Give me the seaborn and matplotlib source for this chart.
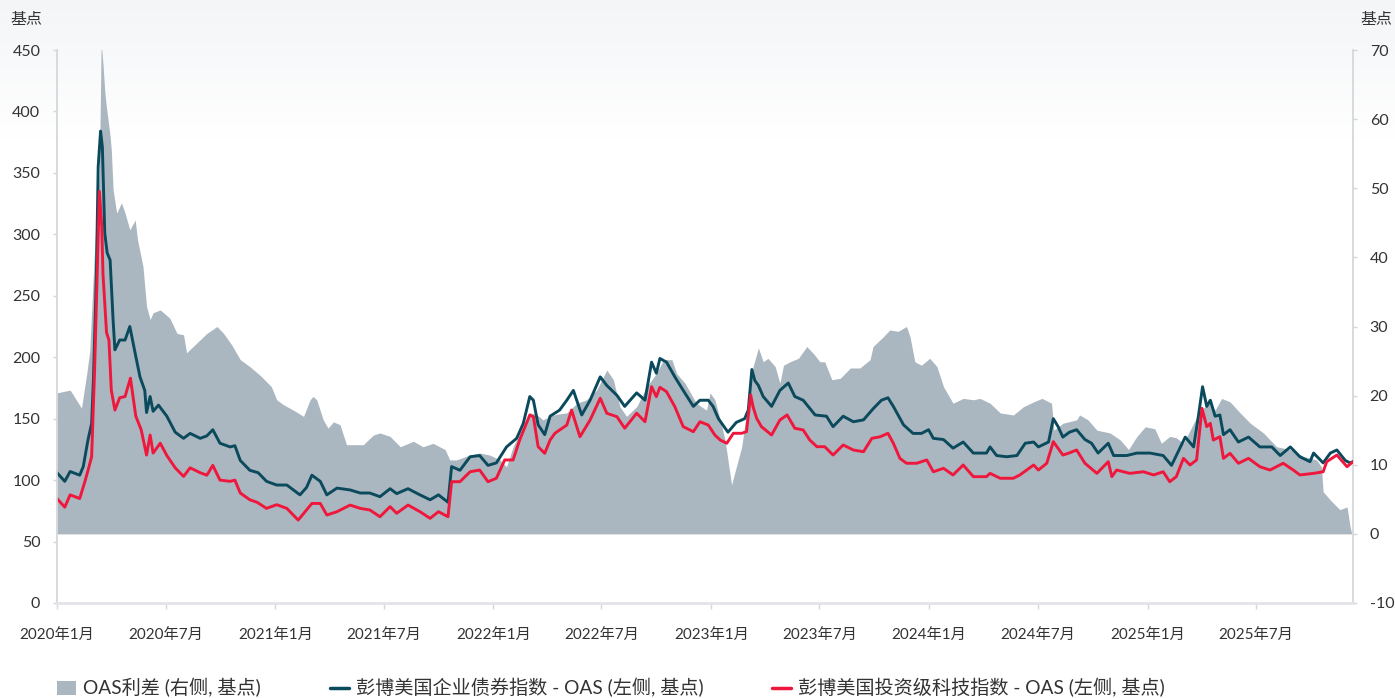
import matplotlib
matplotlib.use("Agg")
import matplotlib.pyplot as plt
from matplotlib.patches import Patch
from matplotlib.lines import Line2D
import numpy as np
import pandas as pd
import seaborn as sns

# ---------------- data ----------------
corp_dates = [
    "2020-01-01", "2020-01-14", "2020-01-23", "2020-02-08", "2020-02-14", "2020-02-22", "2020-02-28",
    "2020-03-02", "2020-03-07", "2020-03-10", "2020-03-14", "2020-03-17", "2020-03-21", "2020-03-25",
    "2020-03-30", "2020-04-04", "2020-04-07", "2020-04-15", "2020-04-24", "2020-05-02", "2020-05-11",
    "2020-05-19", "2020-05-27", "2020-05-30", "2020-06-05", "2020-06-10", "2020-06-19", "2020-07-03",
    "2020-07-17", "2020-07-31", "2020-08-11", "2020-08-28", "2020-09-08", "2020-09-18", "2020-09-30",
    "2020-10-17", "2020-10-25", "2020-11-03", "2020-11-19", "2020-12-03", "2020-12-17", "2021-01-03",
    "2021-01-20", "2021-02-11", "2021-02-22", "2021-03-03", "2021-03-17", "2021-03-28", "2021-04-14",
    "2021-05-06", "2021-05-23", "2021-06-08", "2021-06-25", "2021-07-12", "2021-07-23", "2021-08-11",
    "2021-08-31", "2021-09-17", "2021-10-01", "2021-10-17", "2021-10-23", "2021-11-06", "2021-11-23",
    "2021-12-09", "2021-12-23", "2022-01-06", "2022-01-23", "2022-02-09", "2022-02-20", "2022-03-03",
    "2022-03-09", "2022-03-17", "2022-03-28", "2022-04-06", "2022-04-22", "2022-05-04", "2022-05-15",
    "2022-05-29", "2022-06-12", "2022-06-29", "2022-07-10", "2022-07-27", "2022-08-09", "2022-08-29",
    "2022-09-12", "2022-09-23", "2022-10-01", "2022-10-07", "2022-10-18", "2022-11-01", "2022-11-15",
    "2022-12-02", "2022-12-13", "2022-12-27", "2023-01-04", "2023-01-13", "2023-01-29", "2023-02-12",
    "2023-02-26", "2023-03-04", "2023-03-10", "2023-03-15", "2023-03-21", "2023-03-29", "2023-04-12",
    "2023-04-26", "2023-05-10", "2023-05-21", "2023-06-04", "2023-06-24", "2023-07-13", "2023-07-24",
    "2023-08-10", "2023-08-27", "2023-09-13", "2023-09-29", "2023-10-13", "2023-10-24", "2023-11-02",
    "2023-11-19", "2023-12-05", "2023-12-19", "2023-12-31", "2024-01-08", "2024-01-25", "2024-02-10",
    "2024-02-27", "2024-03-15", "2024-04-06", "2024-04-12", "2024-04-23", "2024-05-10", "2024-05-27",
    "2024-06-10", "2024-06-24", "2024-07-02", "2024-07-19", "2024-07-27", "2024-08-04", "2024-08-12",
    "2024-08-23", "2024-09-04", "2024-09-18", "2024-09-29", "2024-10-10", "2024-10-27", "2024-11-05",
    "2024-11-27", "2024-12-14", "2025-01-05", "2025-01-27", "2025-02-10", "2025-02-21", "2025-03-05",
    "2025-03-19", "2025-03-27", "2025-04-03", "2025-04-10", "2025-04-16", "2025-04-24", "2025-05-02",
    "2025-05-08", "2025-05-19", "2025-06-02", "2025-06-19", "2025-07-08", "2025-07-28", "2025-08-11",
    "2025-08-28", "2025-09-13", "2025-09-30", "2025-10-06", "2025-10-22", "2025-11-03", "2025-11-14",
    "2025-11-28", "2025-12-06", "2025-12-11",
]
corp_oas = [
    106, 99, 107, 104, 111, 133, 146,
    181, 268, 355, 384, 371, 301, 285,
    279, 230, 206, 214, 214, 225, 203,
    184, 173, 155, 168, 156, 161, 152,
    139, 134, 138, 134, 136, 141, 130,
    127, 128, 116, 108, 106, 99, 96,
    96, 88, 94, 104, 99, 88, 93.5,
    92, 89.5, 89.5, 86.5, 93, 89, 93,
    88, 84, 88, 82, 111, 108, 119,
    120, 112, 114, 127, 134, 146, 168,
    165, 145, 137, 152, 157, 165, 173,
    153, 165, 184, 177, 169, 160, 171,
    165, 196, 187, 199, 196, 184, 173,
    160, 165, 165, 160, 150, 139, 147,
    150, 157, 190, 181, 177, 168, 160,
    173, 179, 168, 165, 153, 152, 143.5,
    152, 147.5, 149, 158, 165, 167, 160,
    145, 138, 138, 141, 134, 133, 126,
    131, 122, 122, 127, 120, 119, 120,
    130, 131, 127, 131, 150, 143.5, 135,
    139, 141, 133, 130, 122, 130, 120,
    120, 122, 122, 120, 112, 123, 135,
    127, 152, 176, 160, 165, 152, 153,
    137, 141, 131, 135, 127, 127, 120,
    127, 119, 115, 122, 114, 122, 124.5,
    116, 114, 115,
]

tech_dates = [
    "2020-01-01", "2020-01-14", "2020-01-23", "2020-02-08", "2020-02-16", "2020-02-22", "2020-02-28",
    "2020-03-04", "2020-03-12", "2020-03-16", "2020-03-18", "2020-03-24", "2020-03-28", "2020-04-01",
    "2020-04-07", "2020-04-15", "2020-04-24", "2020-05-03", "2020-05-12", "2020-05-21", "2020-05-30",
    "2020-06-05", "2020-06-10", "2020-06-22", "2020-07-03", "2020-07-17", "2020-07-31", "2020-08-11",
    "2020-08-28", "2020-09-08", "2020-09-18", "2020-09-30", "2020-10-17", "2020-10-25", "2020-11-03",
    "2020-11-19", "2020-12-01", "2020-12-17", "2021-01-03", "2021-01-20", "2021-02-08", "2021-02-22",
    "2021-03-03", "2021-03-17", "2021-03-28", "2021-04-14", "2021-05-06", "2021-05-23", "2021-06-08",
    "2021-06-25", "2021-07-12", "2021-07-23", "2021-08-11", "2021-08-31", "2021-09-17", "2021-10-01",
    "2021-10-17", "2021-10-23", "2021-11-06", "2021-11-23", "2021-12-09", "2021-12-23", "2022-01-06",
    "2022-01-20", "2022-02-03", "2022-02-14", "2022-03-03", "2022-03-09", "2022-03-17", "2022-03-28",
    "2022-04-06", "2022-04-14", "2022-05-04", "2022-05-12", "2022-05-26", "2022-06-12", "2022-06-29",
    "2022-07-10", "2022-07-27", "2022-08-09", "2022-08-29", "2022-09-12", "2022-09-23", "2022-10-01",
    "2022-10-07", "2022-10-18", "2022-11-01", "2022-11-15", "2022-12-02", "2022-12-13", "2022-12-27",
    "2023-01-07", "2023-01-16", "2023-01-27", "2023-02-07", "2023-02-21", "2023-03-01", "2023-03-08",
    "2023-03-12", "2023-03-18", "2023-03-26", "2023-04-12", "2023-04-26", "2023-05-08", "2023-05-21",
    "2023-06-04", "2023-06-15", "2023-06-27", "2023-07-10", "2023-07-24", "2023-08-10", "2023-08-27",
    "2023-09-13", "2023-09-27", "2023-10-11", "2023-10-24", "2023-11-02", "2023-11-13", "2023-11-24",
    "2023-12-11", "2023-12-28", "2024-01-08", "2024-01-25", "2024-02-10", "2024-02-27", "2024-03-15",
    "2024-04-06", "2024-04-12", "2024-04-29", "2024-05-21", "2024-06-01", "2024-06-24", "2024-07-02",
    "2024-07-16", "2024-07-27", "2024-08-04", "2024-08-12", "2024-08-21", "2024-09-04", "2024-09-18",
    "2024-10-08", "2024-10-27", "2024-11-02", "2024-11-10", "2024-12-02", "2024-12-25", "2025-01-11",
    "2025-01-27", "2025-02-07", "2025-02-18", "2025-03-02", "2025-03-13", "2025-03-24", "2025-04-02",
    "2025-04-10", "2025-04-16", "2025-04-21", "2025-05-02", "2025-05-08", "2025-05-19", "2025-06-02",
    "2025-06-19", "2025-07-08", "2025-07-25", "2025-08-16", "2025-09-02", "2025-09-13", "2025-10-06",
    "2025-10-22", "2025-10-28", "2025-11-14", "2025-12-01", "2025-12-11",
]
tech_oas = [
    85, 78, 88, 85, 97.6, 108, 119,
    190, 335, 306, 268, 220, 214, 173,
    157, 167, 168, 183, 152, 141, 120.4,
    136.7, 122, 130, 120, 110, 103, 110,
    106, 104, 112, 100, 99, 100, 89.5,
    84, 82, 77, 80, 77, 67.5, 75.7,
    81, 81, 71.6, 74.3, 79.7, 77, 75.7,
    70.2, 78.4, 73, 79.7, 74.3, 68.9, 74.3,
    70.2, 98.7, 98.7, 106.8, 108.2, 98.7, 101.5,
    116.4, 116.4, 132.6, 153, 151.6, 127.2, 121.8,
    132.6, 138.1, 144.8, 157, 135.3, 148.9, 166.6,
    154.4, 151.6, 142.2, 154.4, 147.5, 176, 167.9,
    175.5, 172, 159.7, 143.5, 139.4, 147.5, 144.8,
    136.7, 132.6, 130, 138.1, 138.1, 139.4, 169.3,
    159.7, 150.3, 143.5, 136.7, 148.9, 153, 142.2,
    140.8, 132.6, 127.2, 127.2, 120.4, 128.6, 124.5,
    123.1, 134, 135.3, 138.1, 130, 117.7, 113.7,
    113.7, 116.4, 106.8, 109.6, 104.2, 112.3, 102.8,
    102.8, 105.5, 101.5, 101.5, 104.2, 112.3, 108.2,
    113.7, 131.3, 125.9, 120.4, 121.8, 124.5, 113.7,
    105.5, 115, 102.8, 108.2, 105.5, 106.8, 104.2,
    106.8, 98.7, 102.8, 117.7, 112.3, 116.4, 158.4,
    143.5, 146.2, 132.6, 135.3, 117.7, 121.8, 113.7,
    117.7, 110.9, 108.2, 113.7, 108.2, 104.2, 105.5,
    106.8, 115, 120.4, 110.9, 115,
]

spread_dates = [
    "2020-01-01", "2020-01-23", "2020-02-11", "2020-02-20", "2020-02-25", "2020-03-02", "2020-03-07",
    "2020-03-12", "2020-03-15", "2020-03-18", "2020-03-21", "2020-03-23", "2020-03-30", "2020-04-01",
    "2020-04-04", "2020-04-10", "2020-04-18", "2020-04-24", "2020-05-02", "2020-05-11", "2020-05-15",
    "2020-05-24", "2020-05-30", "2020-06-05", "2020-06-10", "2020-06-22", "2020-07-08", "2020-07-20",
    "2020-07-31", "2020-08-05", "2020-08-22", "2020-09-08", "2020-09-25", "2020-10-06", "2020-10-20",
    "2020-11-03", "2020-11-19", "2020-12-08", "2020-12-25", "2021-01-03", "2021-01-14", "2021-01-31",
    "2021-02-17", "2021-02-28", "2021-03-05", "2021-03-11", "2021-03-22", "2021-03-30", "2021-04-08",
    "2021-04-19", "2021-04-30", "2021-05-28", "2021-06-14", "2021-06-25", "2021-07-12", "2021-07-29",
    "2021-08-20", "2021-09-05", "2021-09-22", "2021-10-12", "2021-10-20", "2021-10-31", "2021-11-23",
    "2021-12-09", "2021-12-26", "2022-01-12", "2022-01-23", "2022-02-03", "2022-02-20", "2022-03-03",
    "2022-03-14", "2022-03-25", "2022-04-06", "2022-04-17", "2022-05-04", "2022-05-21", "2022-06-06",
    "2022-06-23", "2022-07-10", "2022-07-21", "2022-08-01", "2022-08-12", "2022-08-29", "2022-09-15",
    "2022-10-01", "2022-10-13", "2022-10-27", "2022-11-04", "2022-11-18", "2022-12-07", "2022-12-24",
    "2022-12-30", "2023-01-07", "2023-01-16", "2023-01-24", "2023-02-04", "2023-02-12", "2023-02-21",
    "2023-03-04", "2023-03-12", "2023-03-21", "2023-03-29", "2023-04-06", "2023-04-18", "2023-04-26",
    "2023-05-02", "2023-05-13", "2023-05-27", "2023-06-10", "2023-06-21", "2023-07-02", "2023-07-10",
    "2023-07-22", "2023-08-05", "2023-08-22", "2023-09-07", "2023-09-24", "2023-09-29", "2023-10-16",
    "2023-10-27", "2023-11-10", "2023-11-24", "2023-11-30", "2023-12-08", "2023-12-19", "2024-01-02",
    "2024-01-14", "2024-01-25", "2024-02-10", "2024-02-27", "2024-03-15", "2024-03-26", "2024-04-12",
    "2024-04-29", "2024-05-21", "2024-06-07", "2024-06-24", "2024-07-08", "2024-07-24", "2024-07-28",
    "2024-08-12", "2024-09-04", "2024-09-09", "2024-09-23", "2024-10-08", "2024-10-30", "2024-11-16",
    "2024-11-30", "2024-12-14", "2024-12-28", "2025-01-13", "2025-01-24", "2025-02-07", "2025-02-18",
    "2025-03-02", "2025-03-19", "2025-03-30", "2025-04-16", "2025-04-24", "2025-05-05", "2025-05-19",
    "2025-06-05", "2025-06-22", "2025-07-14", "2025-08-05", "2025-08-28", "2025-09-19", "2025-10-11",
    "2025-10-19", "2025-10-22", "2025-11-03", "2025-11-19", "2025-12-01", "2025-12-06", "2025-12-09",
]
spread_bp = [
    20.4, 20.8, 18.2, 23.3, 26.6, 37.8, 46.4,
    52.2, 71, 68, 64, 62.3, 57.5, 55.5,
    49.8, 46.4, 47.9, 46.4, 44, 45.4, 42.5,
    38.7, 32.9, 31, 32, 32.4, 31.2, 29,
    28.8, 26.2, 27.6, 29, 30, 29, 27.3,
    25.2, 24.2, 22.8, 21.3, 19.4, 18.7, 17.9,
    17, 19.4, 19.9, 19.4, 16.5, 15.3, 16.2,
    15.8, 12.9, 12.9, 14.3, 14.6, 14.1, 12.6,
    13.4, 12.6, 13.1, 12.2, 10.7, 10.7, 11.4,
    11.7, 11.4, 10.7, 9.7, 12.6, 15.5, 17.5,
    17.3, 16.5, 17, 17.3, 17.5, 18.9, 19.4,
    20.8, 23.7, 22.3, 18.4, 17, 18.4, 21.3,
    23.2, 25.2, 25.2, 23.2, 21.8, 18.9, 17.9,
    20.4, 19.4, 16.5, 13.6, 7.1, 9.7, 12.6,
    19.4, 24.2, 26.9, 24.9, 25.4, 24.2, 21.8,
    24.4, 24.9, 25.4, 27.1, 26.1, 24.9, 24.9,
    22.3, 22.5, 24, 24, 25.2, 27.1, 28.5,
    29.5, 29.3, 30, 28.5, 24.9, 24.4, 25.4,
    24.2, 21.3, 18.9, 19.6, 19.4, 19.6, 18.9,
    17.5, 17.2, 18.4, 19.1, 19.6, 18.9, 15,
    16, 16.5, 17.2, 16.5, 15, 14.6, 13.6,
    12.2, 14.1, 15.5, 15.2, 13.1, 14.1, 13.9,
    13.1, 16, 17.9, 18.9, 17.9, 19.6, 19.1,
    17.5, 16, 14.6, 12.6, 12.2, 11.2, 10.7,
    9.7, 6.1, 4.9, 3.5, 3.9, 1.1, 0,
]

left_ticks = [0, 50, 100, 150, 200, 250, 300, 350, 400, 450]
right_ticks = [-10, 0, 10, 20, 30, 40, 50, 60, 70]
legend_labels = ["OAS利差 (右侧, 基点)", "彭博美国企业债券指数 - OAS (左侧, 基点)",
                 "彭博美国投资级科技指数 - OAS (左侧, 基点)"]

# ---------------- style ----------------
sns.set_theme(style="white")
plt.rcParams["font.family"] = ["Lato", "Noto Sans CJK SC", "DejaVu Sans"]
plt.rcParams["axes.unicode_minus"] = False

COL_AREA = "#aab7c0"
COL_CORP = "#0b4a5c"
COL_TECH = "#f0173d"
COL_TEXT = "#333333"
COL_AXIS = "#d3d6da"

corp = pd.DataFrame({"date": pd.to_datetime(corp_dates), "oas": corp_oas})
tech = pd.DataFrame({"date": pd.to_datetime(tech_dates), "oas": tech_oas})
spread = pd.DataFrame({"date": pd.to_datetime(spread_dates), "bp": spread_bp})

fig = plt.figure(figsize=(13.95, 6.98), dpi=100)

# soft grey-to-white background gradient at the top
bg = fig.add_axes([0, 0, 1, 1], zorder=-10)
grad = np.ones((200, 1, 3))
fade = np.clip(np.linspace(0, 1, 200) / 0.2, 0, 1)
top_col = np.array([0.955, 0.962, 0.970])
for i in range(200):
    grad[i, 0, :] = top_col + (1 - top_col) * fade[i]
bg.imshow(grad, aspect="auto", extent=[0, 1, 0, 1])
bg.axis("off")

ax = fig.add_axes([57 / 1395, 95 / 698, (1353 - 57) / 1395, (603 - 50) / 698])
ax2 = ax.twinx()

# area on the right axis
ax2.fill_between(spread["date"], 0, spread["bp"], color=COL_AREA, linewidth=0)

# lines on the left axis, drawn above the area
sns.lineplot(data=corp, x="date", y="oas", ax=ax, color=COL_CORP, linewidth=2.1)
sns.lineplot(data=tech, x="date", y="oas", ax=ax, color=COL_TECH, linewidth=2.1)
ax.set_zorder(ax2.get_zorder() + 1)
ax.patch.set_visible(False)
ax2.patch.set_visible(False)

ax.set_xlim(pd.Timestamp("2020-01-01"), pd.Timestamp("2025-12-11"))
ax.set_ylim(0, 450)
ax2.set_ylim(-10, 70)
ax.set_yticks(left_ticks)
ax2.set_yticks(right_ticks)
ax.set_xlabel("")
ax.set_ylabel("")

xt = pd.date_range("2020-01-01", "2025-07-01", freq="6MS")
ax.set_xticks(xt)
ax.set_xticklabels([f"{d.year}年{d.month}月" for d in xt])

for s in ["top", "right"]:
    ax.spines[s].set_visible(False)
for s in ["top", "left", "bottom"]:
    ax2.spines[s].set_visible(False)
ax.spines["left"].set_color(COL_AXIS)
ax.spines["bottom"].set_color("#e2e4e7")
ax.spines["bottom"].set_linewidth(2)
ax2.spines["right"].set_color(COL_AXIS)

ax.tick_params(axis="y", length=3, width=1, color=COL_AXIS, pad=9, labelsize=11.5, labelcolor=COL_TEXT, left=True)
ax.tick_params(axis="x", length=4, width=1, color=COL_AXIS, pad=14, labelsize=11, labelcolor=COL_TEXT, bottom=True)
ax2.tick_params(axis="y", length=3, width=1, color=COL_AXIS, pad=9, labelsize=11.5, labelcolor=COL_TEXT, right=True)

fig.text(10 / 1395, 1 - 20 / 698, "基点", fontsize=11.5, color=COL_TEXT, ha="left", va="center")
fig.text(1392 / 1395, 1 - 20 / 698, "基点", fontsize=11.5, color=COL_TEXT, ha="right", va="center")

handles = [
    Patch(facecolor=COL_AREA, edgecolor="none"),
    Line2D([0], [0], color=COL_CORP, linewidth=2.5),
    Line2D([0], [0], color=COL_TECH, linewidth=2.5),
]
fig.legend(handles, legend_labels, loc="center left", bbox_to_anchor=(57 / 1395, 10 / 698),
           ncol=3, frameon=False, fontsize=13.8, handlelength=1.0, handleheight=0.8,
           handletextpad=0.35, columnspacing=3.6, borderpad=0, borderaxespad=0,
           labelcolor=COL_TEXT)

fig.savefig("out.png", dpi=100)
plt.close(fig)
